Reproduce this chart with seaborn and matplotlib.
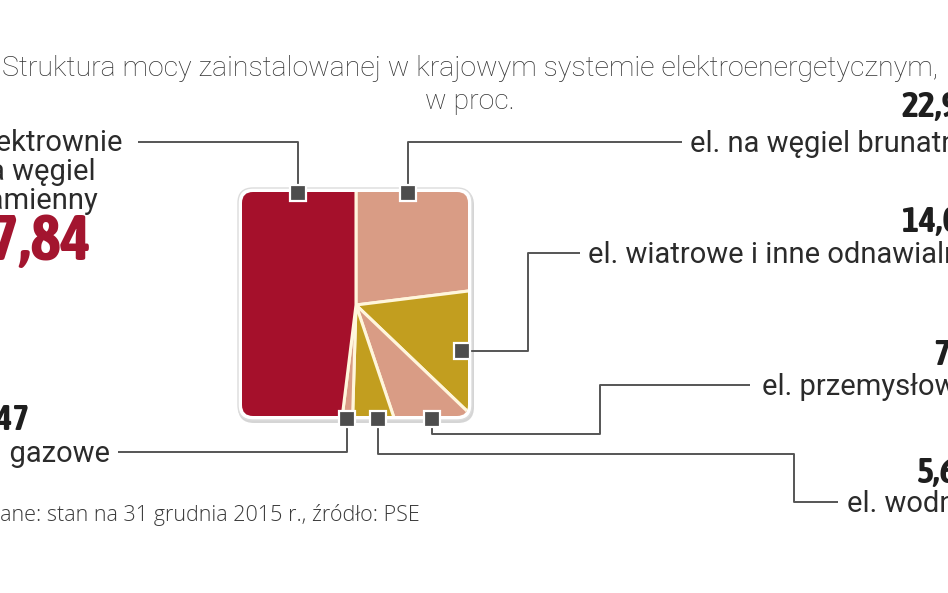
import numpy as np
import pandas as pd
import matplotlib
matplotlib.use("Agg")
import matplotlib.pyplot as plt
import seaborn as sns
from matplotlib.patches import FancyBboxPatch, Rectangle

sns.set_theme(style="white")
plt.rcParams['font.family'] = ['Roboto', 'DejaVu Sans']

# --- data (clockwise from 12 o'clock) ---
labels = ["el. na węgiel brunatny", "el. wiatrowe i inne odnawialne",
          "el. przemysłowe", "el. wodne", "el. gazowe",
          "elektrownie\nna węgiel\nkamienny"]
shares = [22.93, 14.05, 7.66, 5.63, 1.47, 47.84]
slice_colors = ["#D99C85", "#C29E1F", "#D99C85", "#C29E1F", "#D99C85", "#A5102B"]

title = "Struktura mocy zainstalowanej w krajowym systemie elektroenergetycznym,\nw proc."
note = "Dane: stan na 31 grudnia 2015 r., źródło: PSE"

df = pd.DataFrame({"label": labels, "share": shares, "color": slice_colors})

W, H = 948, 593
def Y(py):
    return H - py

fig = plt.figure(figsize=(W / 100, H / 100), dpi=100)
ax = fig.add_axes([0, 0, 1, 1])

# square "pie"
cx, cy = 356, Y(305)
shadow = FancyBboxPatch((238, Y(423)), 236, 234, boxstyle="round,pad=0,rounding_size=16",
                        fc="#c8c8c8", ec="none", alpha=0.75, zorder=1)
ax.add_patch(shadow)
frame = FancyBboxPatch((238, Y(420)), 234, 232, boxstyle="round,pad=0,rounding_size=15",
                       fc="white", ec="#dcdcdc", lw=1, zorder=2)
ax.add_patch(frame)
clip = FancyBboxPatch((242, Y(416)), 226, 224, boxstyle="round,pad=0,rounding_size=11",
                      fc="none", ec="none", transform=ax.transData)
ax.add_patch(clip)

wedges, _ = ax.pie(df["share"], colors=df["color"], startangle=90, counterclock=False,
                   center=(cx, cy), radius=200, frame=True,
                   wedgeprops=dict(edgecolor="#FFF6DC", linewidth=2.2))
for w in wedges:
    w.set_clip_on(True)
    w.set_clip_path(clip)
    w.set_zorder(3)

ax.set_aspect("auto")
ax.set_xlim(0, W)
ax.set_ylim(0, H)
ax.axis("off")

def fmt(v):
    return f"{v:.2f}".replace(".", ",")

line_kw = dict(color="#555555", lw=1.4, zorder=4, solid_capstyle="butt")
lbl_kw = dict(fontsize=21, color="#2b2b2b", va="center")
val_kw = dict(fontsize=26, fontweight="bold", color="#1e1e1e", va="center",
              family=["Asap Condensed", "DejaVu Sans"])

# leaders: marker point, then path
leaders = [
    [(298, 193), (298, 142), (138, 142)],
    [(408, 193), (408, 142), (682, 142)],
    [(462, 351), (528, 351), (528, 253), (580, 253)],
    [(432, 419), (432, 434), (600, 434), (600, 385), (750, 385)],
    [(378, 419), (378, 454), (794, 454), (794, 502), (838, 502)],
    [(347, 419), (347, 452), (118, 452)],
]
for path in leaders:
    xs = [p[0] for p in path]
    ys = [Y(p[1]) for p in path]
    ax.plot(xs, ys, **line_kw)
    mx, my = path[0]
    ax.add_patch(Rectangle((mx - 8, Y(my) - 8), 16, 16, fc="#4d4d4d", ec="white",
                           lw=1.6, zorder=5))

# right-hand labels
ax.text(690, Y(144), df.label[0], ha="left", **lbl_kw)
ax.text(902, Y(107), fmt(df.share[0]), ha="left", **val_kw)
ax.text(588, Y(255), df.label[1], ha="left", **lbl_kw)
ax.text(902, Y(222), fmt(df.share[1]), ha="left", **val_kw)
ax.text(762, Y(387), df.label[2], ha="left", **lbl_kw)
ax.text(933, Y(355), fmt(df.share[2]), ha="left", **val_kw)
ax.text(847, Y(504), df.label[3], ha="left", **lbl_kw)
ax.text(917, Y(473), fmt(df.share[3]), ha="left", **val_kw)

# left-hand labels
ax.text(110, Y(454), df.label[4], ha="right", **lbl_kw)
ax.text(29, Y(420), fmt(df.share[4]), ha="right", **val_kw)
ax.text(123, Y(172), df.label[5], ha="right", multialignment="left", fontsize=21,
        color="#2b2b2b", va="center", linespacing=1.05)
ax.text(91, Y(243), fmt(df.share[5]), ha="right", fontsize=46, fontweight="bold",
        color="#A3152F", va="center", family=["Asap Condensed", "DejaVu Sans"])

ax.text(470, Y(85), title, ha="center", va="center", fontsize=20.5, fontweight="light",
        color="#333333", linespacing=1.3)
ax.text(420, Y(515), note, ha="right", va="center", fontsize=15.5, fontweight="light",
        color="#3a3a3a", family=["Open Sans", "DejaVu Sans"])

fig.savefig("out.png", dpi=100)
